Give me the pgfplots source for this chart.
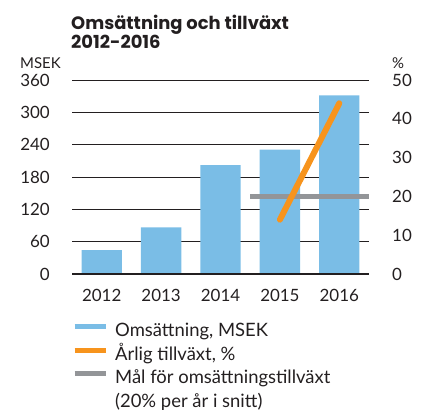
\documentclass[border=0pt]{standalone}
\usepackage{pgfplots}
\pgfplotsset{compat=1.18}
\usepackage{fontspec}
\setmainfont{Lato}
\newfontfamily\titlefont{Poppins}
\definecolor{barblue}{RGB}{122,189,230}
\definecolor{lineorange}{RGB}{247,148,29}
\definecolor{goalgray}{RGB}{147,149,152}
\definecolor{ink}{RGB}{35,31,32}
\begin{document}
\begin{tikzpicture}[x=1bp,y=1bp]
\path[use as bounding box] (0,0) rectangle (424,410);
\node[anchor=base west, inner sep=0pt, font=\titlefont\bfseries\fontsize{18}{19}\selectfont, text=ink] at (71,381) {Omsättning och tillväxt};
\node[anchor=base west, inner sep=0pt, font=\titlefont\bfseries\fontsize{18}{19}\selectfont, text=ink] at (71,362) {2012-2016};
\node[anchor=base west, inner sep=0pt, font=\fontsize{15}{17}\selectfont, text=ink] at (20,342) {MSEK};
\node[anchor=base west, inner sep=0pt, font=\fontsize{15}{17}\selectfont, text=ink] at (392,342) {\%};
\begin{axis}[
  at={(72bp,136bp)}, anchor=south west,
  scale only axis, width=297bp, height=194bp,
  xmin=-0.5, xmax=4.5, ymin=0, ymax=360,
  xtick={0,1,2,3,4}, xticklabels={2012,2013,2014,2015,2016},
  ytick={0,60,...,360},
  major tick length=0pt,
  axis x line*=bottom, axis y line*=left,
  x axis line style={-, draw=none},
  y axis line style={-, draw=none},
  ymajorgrids, grid style={ink, line width=0.9bp},
  /pgf/number format/assume math mode=true,
  ticklabel style={font=\fontsize{17}{20}\selectfont, text=ink, inner sep=0pt},
  yticklabel style={anchor=east, xshift=-22bp},
  xticklabel style={anchor=base, yshift=-28bp},
  clip=false,
]
\addplot[ybar, bar width=0.68, fill=barblue, draw=none] coordinates {(0,44.5) (1,86.6) (2,202) (3,231) (4,331.6)};
\draw[ink, line width=2.5bp] (axis cs:-0.5,0) -- (axis cs:4.5,0);
\end{axis}
\begin{axis}[
  at={(72bp,136bp)}, anchor=south west,
  scale only axis, width=297bp, height=194bp,
  xmin=-0.5, xmax=4.5, ymin=0, ymax=50,
  ytick={0,10,...,50},
  major tick length=0pt,
  axis x line=none, axis y line*=right,
  y axis line style={-, draw=none},
  /pgf/number format/assume math mode=true,
  ticklabel style={font=\fontsize{17}{20}\selectfont, text=ink, inner sep=0pt},
  yticklabel style={anchor=west, xshift=23bp},
  legend style={draw=none, fill=none, at={(0,-0.245)}, anchor=north west,
    inner sep=0pt, font=\fontsize{18.5}{22}\selectfont, text=ink,
    row sep=3.5bp, cells={anchor=west},
    nodes={inner sep=1bp, text height=14bp, text depth=4bp}},
  legend cell align=left,
  legend image code/.code={\draw (0bp,5bp) -- (31bp,5bp); \path (37bp,5bp);},
  clip=false,
]
\addlegendimage{barblue, line width=5bp}
\addlegendentry{Omsättning, MSEK}
\addlegendimage{lineorange, line width=5bp}
\addlegendentry{Årlig tillväxt, \%}
\addlegendimage{goalgray, line width=5bp}
\addlegendentry{Mål för omsättningstillväxt}
\addlegendimage{white, draw opacity=0, line width=5bp}
\addlegendentry{(20\% per år i snitt)}
\addplot[goalgray, line width=5.3bp, forget plot] coordinates {(2.5,20) (4.5,20)};
\addplot[lineorange, line width=6bp, line cap=round, forget plot] coordinates {(3,14) (4,44)};
\end{axis}
\end{tikzpicture}
\end{document}
